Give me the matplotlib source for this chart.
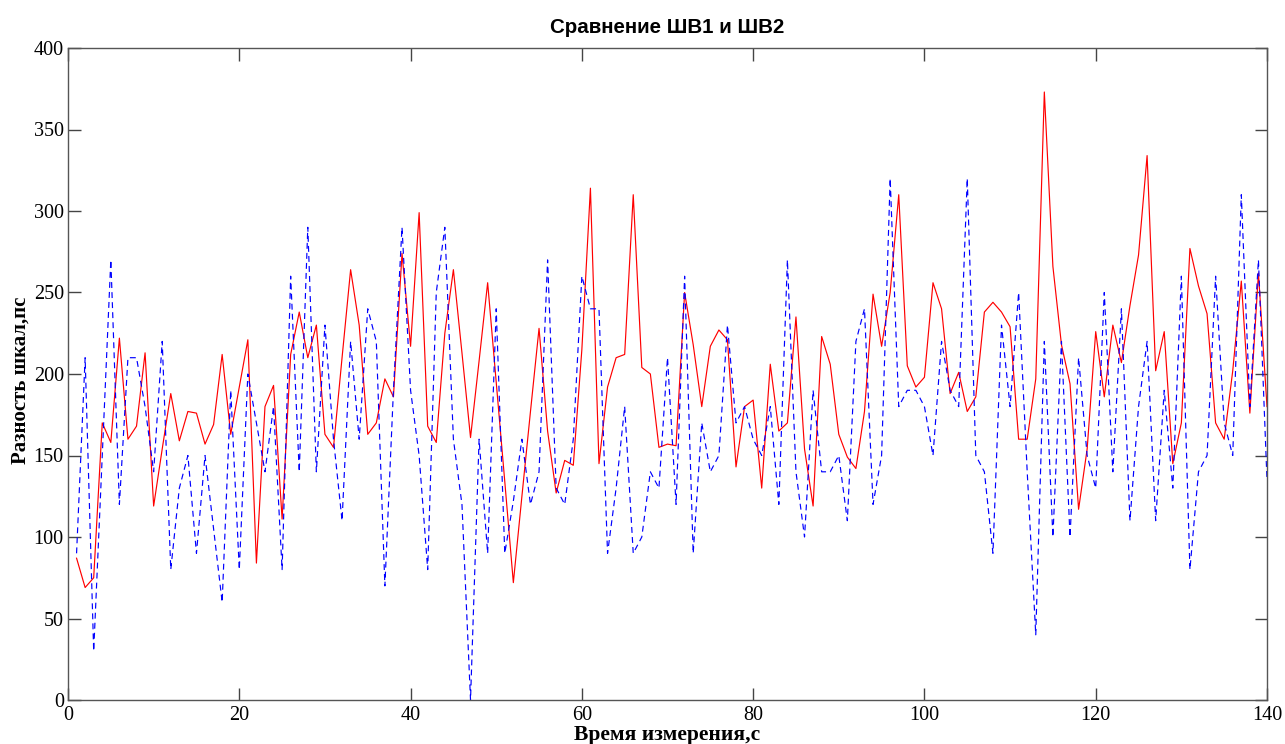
import matplotlib
matplotlib.use("Agg")
import matplotlib.pyplot as plt
import numpy as np

title = "Сравнение ШВ1 и ШВ2"
xlabel = "Время измерения,с"
ylabel = "Разность шкал,пс"

time_s = list(range(1, 141))

shv1 = [87, 69, 75, 170, 158, 222, 160, 168, 213, 119,
        154, 188, 159, 177, 176, 157, 169, 212, 163, 192,
        221, 84, 180, 193, 111, 212, 238, 210, 230, 163,
        155, 210, 264, 230, 163, 170, 197, 186, 274, 217,
        299, 168, 158, 225, 264, 213, 161, 208, 256, 195,
        134, 72, 125, 177, 228, 165, 127, 147, 144, 215,
        314, 145, 192, 210, 212, 310, 204, 200, 155, 157,
        156, 250, 218, 180, 217, 227, 221, 143, 180, 184,
        130, 206, 165, 170, 235, 154, 119, 223, 206, 163,
        149, 142, 177, 249, 217, 250, 310, 205, 192, 198,
        256, 240, 188, 201, 177, 186, 238, 244, 238, 229,
        160, 160, 197, 373, 266, 218, 194, 117, 154, 226,
        186, 230, 207, 242, 273, 334, 202, 226, 145, 170,
        277, 254, 237, 170, 160, 202, 257, 176, 262, 180]

shv2 = [90, 210, 30, 150, 270, 120, 210, 210, 180, 140,
        220, 80, 130, 150, 90, 150, 105, 60, 190, 80,
        200, 170, 140, 180, 80, 260, 140, 290, 140, 230,
        160, 110, 220, 160, 240, 220, 70, 190, 290, 190,
        150, 80, 250, 290, 160, 120, 0, 160, 90, 240,
        90, 122, 160, 120, 140, 270, 130, 120, 160, 260,
        240, 240, 90, 130, 180, 90, 100, 140, 130, 210,
        120, 260, 90, 170, 140, 150, 230, 170, 180, 160,
        150, 180, 120, 270, 140, 100, 190, 140, 140, 150,
        110, 220, 240, 120, 150, 320, 180, 190, 190, 180,
        150, 220, 190, 180, 320, 150, 140, 90, 230, 180,
        250, 140, 40, 220, 100, 220, 100, 210, 150, 130,
        250, 140, 240, 110, 180, 220, 110, 190, 130, 260,
        80, 140, 150, 260, 170, 150, 310, 180, 270, 135]

xticks = [0, 20, 40, 60, 80, 100, 120, 140]
yticks = [0, 50, 100, 150, 200, 250, 300, 350, 400]

fig = plt.figure(figsize=(12.85, 7.44), dpi=100)
ax = fig.add_axes([68/1285, 44/744, (1267-68)/1285, (700-48)/744])

ax.plot(time_s, shv1, color="#ff0000", lw=0.85, ls="-")
ax.plot(time_s, shv2, color="#0000ff", lw=0.85, ls=(0, (5, 3.5)))

ax.set_xlim(0, 140)
ax.set_ylim(0, 400)
ax.set_xticks(xticks)
ax.set_yticks(yticks)
ax.set_xticklabels([str(v) for v in xticks], family="Liberation Serif", fontsize=14.5)
ax.set_yticklabels([str(v) for v in yticks], family="Liberation Serif", fontsize=14.5)
ax.tick_params(direction="in", length=9, width=1, color="#444444",
               top=True, right=True, pad=3)
ax.tick_params(axis="x", pad=4)
for s in ax.spines.values():
    s.set_color("#555555")
    s.set_linewidth(1.0)

ax.set_title(title, family="Liberation Sans", fontweight="bold", fontsize=14.8, pad=11)
ax.set_xlabel(xlabel, family="Liberation Serif", fontweight="bold", fontsize=15.5, labelpad=0)
ax.set_ylabel(ylabel, family="Liberation Serif", fontweight="bold", fontsize=15, labelpad=4)
ax.yaxis.set_label_coords(-0.031, 0.49)

fig.savefig("out.png", dpi=100)
